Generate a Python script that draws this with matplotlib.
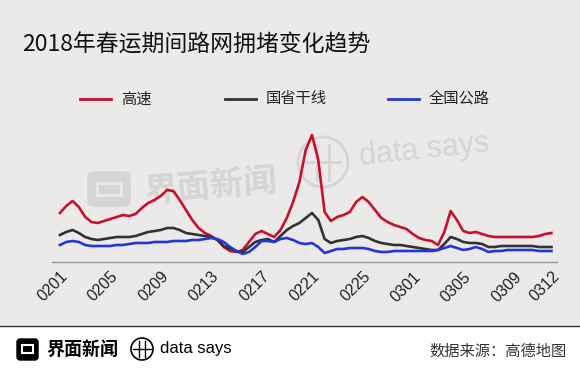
import numpy as np
import matplotlib
matplotlib.use("Agg")
import matplotlib.pyplot as plt
from matplotlib.patches import Rectangle, FancyBboxPatch, Circle

plt.rcParams['font.family'] = ['Noto Sans CJK SC', 'DejaVu Sans']

# congestion readings, every half day from 0201 to 0312 (relative height)
highway = [49, 56, 61, 55, 45, 40, 39, 41, 43, 45, 47, 46, 48, 54, 59, 62, 66, 72, 71, 62,
           52, 42, 34, 29, 26, 22, 15, 11, 10, 12, 20, 28, 31, 28, 25, 32, 44, 60, 80, 112,
           127, 102, 50, 41, 45, 47, 50, 60, 65, 60, 52, 44, 40, 37, 35, 33, 28, 24, 22, 21,
           17, 30, 51, 42, 31, 29, 30, 28, 26, 25, 25, 25, 25, 25, 25, 25, 26, 28, 29]
trunk = [27, 30, 32, 29, 25, 23, 22, 23, 24, 25, 25, 25, 26, 28, 30, 31, 32, 34, 34, 32,
         29, 28, 27, 26, 25, 22, 16, 13, 11, 10, 15, 20, 22, 23, 20, 26, 32, 36, 39, 44,
         49, 42, 23, 19, 21, 22, 23, 25, 26, 24, 21, 19, 18, 17, 17, 16, 15, 14, 13, 12,
         12, 18, 25, 23, 20, 19, 19, 18, 15, 15, 16, 16, 16, 16, 16, 16, 15, 15, 15]
national = [17, 20, 21, 20, 17, 16, 16, 16, 16, 17, 17, 18, 19, 19, 19, 20, 20, 20, 21, 21,
            21, 22, 22, 23, 24, 23, 20, 15, 11, 8, 10, 15, 21, 21, 20, 23, 24, 22, 19, 18,
            19, 15, 9, 11, 13, 13, 14, 14, 14, 13, 11, 10, 10, 11, 11, 11, 11, 11, 11, 11,
            12, 14, 16, 14, 12, 13, 15, 13, 10, 11, 11, 12, 12, 12, 12, 12, 11, 11, 11]
tick_days = [0, 4, 8, 12, 16, 20, 24, 28, 32, 36, 39]
tick_labels = ['0201', '0205', '0209', '0213', '0217', '0221', '0225', '0301', '0305', '0309', '0312']
series_names = ['高速', '国省干线', '全国公路']

RED, DARK, BLUE = '#c8102e', '#333333', '#2437d4'

fig = plt.figure(figsize=(5.8, 3.79), dpi=100)

# background layer in pixel coordinates
bg = fig.add_axes([0, 0, 1, 1], zorder=0)
bg.set_xlim(0, 580)
bg.set_ylim(379, 0)
bg.axis('off')
bg.add_patch(Rectangle((0, 0), 580, 326, color='#ebeae8'))
bg.add_patch(Rectangle((0, 326), 580, 53, color='white'))
bg.plot([0, 580], [326, 326], color='#333333', lw=1)

bg.text(22, 45, '2018年春运期间路网拥堵变化趋势', fontsize=16.5, va='center', color='#111111')

# legend
for (x0, c, name) in zip([80, 225, 388], [RED, DARK, BLUE], series_names):
    bg.plot([x0, x0 + 31], [99, 99], color=c, lw=2)
    bg.text(x0 + 41, 99, name, fontsize=11, va='center', color='#222222')

# watermark
wm = '#d6d5d3'
bg.add_patch(FancyBboxPatch((90, 174), 38, 30, boxstyle='round,pad=2,rounding_size=5', color=wm))
bg.add_patch(Rectangle((97, 183), 24, 12, fill=False, ec='#ebeae8', lw=2))
bg.text(143, 186, '界面新闻', fontsize=24, fontweight='bold', color=wm, va='center', rotation=5)
bg.add_patch(Circle((323, 162), 25, fill=False, ec=wm, lw=2))
bg.plot([317, 317], [145, 180], color=wm, lw=2)
bg.plot([329, 329], [145, 180], color=wm, lw=2)
bg.plot([306, 340], [162, 162], color=wm, lw=2)
bg.text(358, 165, 'data says', fontsize=22, color=wm, va='baseline', rotation=6,
        family='Liberation Sans')

# footer
bg.add_patch(FancyBboxPatch((18, 340), 19, 19, boxstyle='round,pad=1,rounding_size=3', color='black'))
bg.add_patch(Rectangle((22, 345), 11, 8, fill=False, ec='white', lw=1.5))
bg.text(46, 349, '界面新闻', fontsize=13, fontweight='bold', va='center', color='black')
bg.add_patch(Circle((142, 349), 11, fill=False, ec='black', lw=1.2))
bg.plot([139, 139], [341, 357], color='black', lw=1)
bg.plot([145, 145], [341, 357], color='black', lw=1)
bg.plot([133, 151], [349, 349], color='black', lw=1)
bg.text(160, 349, 'data says', fontsize=12, va='center', family='Liberation Sans')
bg.text(567, 351, '数据来源：高德地图', fontsize=11, va='center', ha='right', color='#333333')

# main chart
ax = fig.add_axes([52 / 580, 1 - 262 / 379, 505 / 580, 142 / 379], zorder=1)
ax.patch.set_alpha(0)
x = np.arange(len(highway)) / 2
ax.plot(x, highway, color=RED, lw=1.9)
ax.plot(x, trunk, color=DARK, lw=1.9)
ax.plot(x, national, color=BLUE, lw=1.9)
ax.set_xlim(-0.63, 39.44)
ax.set_ylim(0, 142)
for s in ['top', 'right', 'left']:
    ax.spines[s].set_visible(False)
ax.spines['bottom'].set_color('#999999')
ax.spines['bottom'].set_linewidth(1)
ax.set_yticks([])
ax.set_xticks(tick_days)
ax.set_xticklabels(tick_labels, rotation=45, ha='right', rotation_mode='anchor',
                   fontsize=11.5, family='Liberation Sans', color='#222222')
ax.tick_params(axis='x', length=0, pad=5)

fig.savefig('out.png', dpi=100)
